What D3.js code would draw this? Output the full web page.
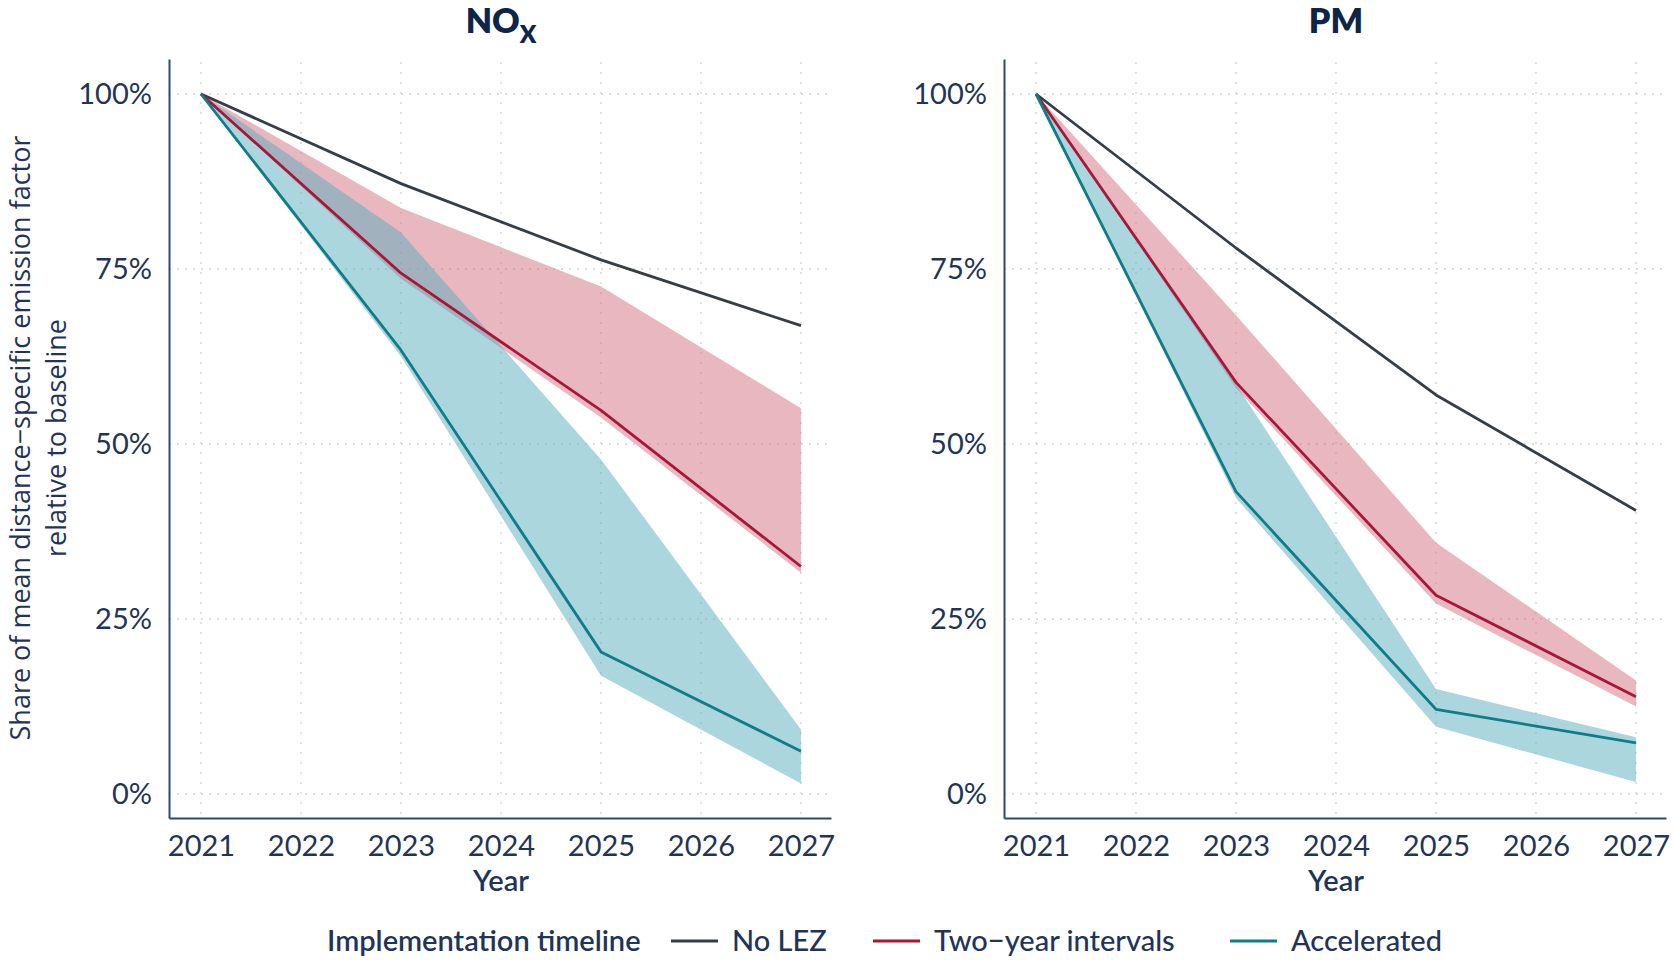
<!DOCTYPE html>
<html><head><meta charset="utf-8">
<script src="https://cdn.jsdelivr.net/npm/d3@7"></script>
<style>
body{margin:0;background:#fff;}
svg text{font-family:Lato,"Open Sans",sans-serif;}
</style></head>
<body><svg id="c" width="1675" height="960"></svg>
<script>
const years = [2021, 2023, 2025, 2027];
const yTicks = [0, 25, 50, 75, 100];
const xTicks = [2021, 2022, 2023, 2024, 2025, 2026, 2027];
const seriesNames = ["No LEZ", "Two\u2212year intervals", "Accelerated"];

// NOx
const noxNoLEZ = [100, 87.2, 76.3, 66.9];
const noxTwoYear = [100, 74.4, 54.8, 32.5];
const noxTwoYearLow = [100, 73.6, 53.8, 31.6];
const noxTwoYearHigh = [100, 83.7, 72.5, 55.1];
const noxAccel = [100, 63.4, 20.3, 6.1];
const noxAccelLow = [100, 62.5, 16.9, 1.5];
const noxAccelHigh = [100, 80.2, 47.8, 9.2];
// PM
const pmNoLEZ = [100, 78.0, 57.0, 40.5];
const pmTwoYear = [100, 58.8, 28.4, 13.9];
const pmTwoYearLow = [100, 58.0, 27.2, 12.5];
const pmTwoYearHigh = [100, 68.4, 35.9, 16.2];
const pmAccel = [100, 43.2, 12.1, 7.3];
const pmAccelLow = [100, 42.3, 9.6, 1.7];
const pmAccelHigh = [100, 58.5, 15.0, 8.1];

const lineColors = ["#353e47", "#a8173a", "#0e7d88"];
const bandColors = [null, "#d3707f", "#5aaebd"];
const textCol = "#1f3557";
const titleCol = "#0c2548";

const panels = [
  {title: "NO", sub: "X", left: 169, right: 831, lines: [noxNoLEZ, noxTwoYear, noxAccel],
   bands: [null, [noxTwoYearLow, noxTwoYearHigh], [noxAccelLow, noxAccelHigh]]},
  {title: "PM", sub: "", left: 1004, right: 1666, lines: [pmNoLEZ, pmTwoYear, pmAccel],
   bands: [null, [pmTwoYearLow, pmTwoYearHigh], [pmAccelLow, pmAccelHigh]]}
];

const svg = d3.select("#c");
const plotTop = 59, plotBottom = 818;
const y = d3.scaleLinear().domain([-3.43, 105]).range([plotBottom, plotTop]);

panels.forEach(p => {
  const x = d3.scaleLinear().domain([2020.68, 2027.3]).range([p.left, p.right]);
  const g = svg.append("g");
  g.selectAll(".vg").data(xTicks).join("line")
    .attr("x1", d => x(d)).attr("x2", d => x(d)).attr("y1", plotTop + 3).attr("y2", plotBottom)
    .attr("stroke", "#cfd3d8").attr("stroke-width", 1.3).attr("stroke-dasharray", "2,8");
  g.selectAll(".hg").data(yTicks).join("line")
    .attr("x1", p.left).attr("x2", p.right).attr("y1", d => y(d)).attr("y2", d => y(d))
    .attr("stroke", "#cfd3d8").attr("stroke-width", 1.3).attr("stroke-dasharray", "2,6");
  p.bands.forEach((b, i) => {
    if (!b) return;
    const area = d3.area().x((d, k) => x(years[k])).y0((d, k) => y(b[0][k])).y1((d, k) => y(b[1][k]));
    g.append("path").datum(years).attr("d", area).attr("fill", bandColors[i]).attr("fill-opacity", 0.5);
  });
  p.lines.forEach((vals, i) => {
    const line = d3.line().x((d, k) => x(years[k])).y(d => y(d));
    g.append("path").datum(vals).attr("d", line).attr("fill", "none")
      .attr("stroke", lineColors[i]).attr("stroke-width", 2.8).attr("stroke-linejoin", "round");
  });
  const xa = g.append("g").attr("transform", `translate(0,${plotBottom})`)
    .call(d3.axisBottom(x).tickValues(xTicks).tickFormat(d3.format("d")).tickSize(0).tickPadding(17));
  xa.select(".domain").attr("stroke", "#2c4a6e").attr("stroke-width", 2);
  xa.selectAll("text").attr("font-size", 29).attr("fill", textCol).style("font-family", "Lato");
  const ya = g.append("g").attr("transform", `translate(${p.left},0)`)
    .call(d3.axisLeft(y).tickValues(yTicks).tickFormat(d => d + "%").tickSize(0).tickPadding(17));
  ya.select(".domain").attr("stroke", "#2c4a6e").attr("stroke-width", 2);
  ya.selectAll("text").attr("font-size", 29).attr("fill", textCol).style("font-family", "Lato");
  g.append("text").attr("x", x(2024)).attr("y", 891).attr("text-anchor", "middle")
    .attr("font-size", 29).attr("font-weight", 600).attr("fill", textCol).text("Year");
  const t = g.append("text").attr("x", x(2024)).attr("y", 33).attr("text-anchor", "middle")
    .attr("font-size", 34).attr("font-weight", 800).attr("fill", titleCol).text(p.title);
  if (p.sub) t.append("tspan").attr("font-size", 24).attr("dy", 10).text(p.sub);
});

const yt = svg.append("text").attr("transform", "translate(30,438) rotate(-90)")
  .attr("text-anchor", "middle").attr("font-size", 27).attr("fill", textCol)
  .style("font-family", "'Open Sans',sans-serif").attr("font-weight", 500);
yt.append("tspan").attr("x", 0).attr("dy", 0).text("Share of mean distance\u2212specific emission factor");
yt.append("tspan").attr("x", 0).attr("dy", 36).text("relative to baseline");

const lg = svg.append("g");
lg.append("text").attr("x", 327).attr("y", 951).attr("font-size", 29).attr("font-weight", 600)
  .attr("fill", textCol).text("Implementation timeline");
const legX = [671, 873, 1230];
seriesNames.forEach((n, i) => {
  lg.append("line").attr("x1", legX[i]).attr("x2", legX[i] + 47).attr("y1", 941).attr("y2", 941)
    .attr("stroke", lineColors[i]).attr("stroke-width", 3);
  lg.append("text").attr("x", legX[i] + 61).attr("y", 951).attr("font-size", 29).attr("font-weight", 500)
    .attr("fill", textCol).text(n);
});
</script></body></html>
